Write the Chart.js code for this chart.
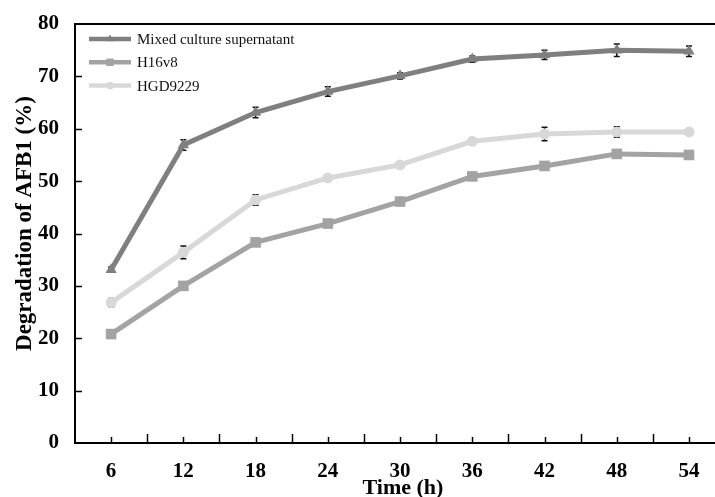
<!DOCTYPE html>
<html><head><meta charset="utf-8">
<script src="https://cdn.jsdelivr.net/npm/chart.js@4/dist/chart.umd.min.js"></script>
<style>html,body{margin:0;padding:0;background:#fff;overflow:hidden}#wrap{width:715px;height:497px;position:relative}</style>
</head><body><div id="wrap"><canvas id="c" width="715" height="497"></canvas></div>
<script>
// ---- data ----
const timeLabels = [6, 12, 18, 24, 30, 36, 42, 48, 54];
const mixedValues = [33.1, 56.9, 63.1, 67.1, 70.1, 73.3, 74.1, 75.0, 74.8];
const h16v8Values = [20.8, 30.0, 38.3, 41.9, 46.1, 50.9, 52.9, 55.2, 55.0];
const hgd9229Values = [26.8, 36.4, 46.4, 50.6, 53.1, 57.6, 59.0, 59.4, 59.4];
const mixedErr = [0.5, 1.0, 1.0, 0.9, 0.6, 0.6, 0.9, 1.2, 1.0];
const h16v8Err = [0.5, 0.5, 0.5, 0.5, 0.5, 0.5, 0.5, 0.5, 0.5];
const hgd9229Err = [0.8, 1.2, 1.0, 0.6, 0.6, 0.6, 1.3, 1.0, 0.6];
const seriesNames = ['Mixed culture supernatant', 'H16v8', 'HGD9229'];
const yTickValues = [0, 10, 20, 30, 40, 50, 60, 70, 80];
const xTitle = 'Time (h)';
const yTitle = 'Degradation of AFB1 (%)';

const colors = ['#7f7f7f', '#a3a3a3', '#d8d8d8'];
const styles = ['triangle', 'rect', 'circle'];
const radii = [6.5, 7.5, 5.5];
const allValues = [mixedValues, h16v8Values, hgd9229Values];
const allErr = [mixedErr, h16v8Err, hgd9229Err];

const serif = "'Liberation Serif','Times New Roman',serif";

const datasets = seriesNames.map((name, k) => ({
  label: name,
  data: timeLabels.map((t, i) => ({x: t, y: allValues[k][i]})),
  borderColor: colors[k],
  backgroundColor: colors[k],
  pointBackgroundColor: colors[k],
  pointBorderColor: colors[k],
  pointBorderWidth: 0,
  pointStyle: styles[k],
  pointRadius: radii[k],
  borderWidth: 5,
  tension: 0,
  fill: false,
  errors: allErr[k]
}));

const decor = {
  id: 'decor',
  beforeDatasetsDraw(chart) {
    const ctx = chart.ctx, ys = chart.scales.y;
    ctx.save();
    ctx.strokeStyle = '#111';
    ctx.lineWidth = 1.5;
    chart.data.datasets.forEach((ds, k) => {
      const meta = chart.getDatasetMeta(k);
      meta.data.forEach((pt, i) => {
        const v = ds.data[i].y, e = ds.errors[i];
        const y1 = ys.getPixelForValue(v + e), y2 = ys.getPixelForValue(v - e);
        ctx.beginPath();
        ctx.moveTo(pt.x, y1); ctx.lineTo(pt.x, y2);
        ctx.moveTo(pt.x - 3, y1); ctx.lineTo(pt.x + 3, y1);
        ctx.moveTo(pt.x - 3, y2); ctx.lineTo(pt.x + 3, y2);
        ctx.stroke();
      });
    });
    ctx.restore();
  },
  afterDraw(chart) {
    const ctx = chart.ctx, a = chart.chartArea;
    const xs = chart.scales.x, ys = chart.scales.y;
    ctx.save();
    ctx.strokeStyle = '#000';
    ctx.lineWidth = 2;
    // top frame line
    ctx.beginPath();
    ctx.moveTo(a.left - 1, a.top);
    ctx.lineTo(a.right, a.top);
    ctx.stroke();
    ctx.lineWidth = 1.5;
    // x ticks (inside): short at labelled values, long at midpoints
    timeLabels.forEach((t, i) => {
      const px = Math.round(xs.getPixelForValue(t)) + 0.5;
      ctx.beginPath(); ctx.moveTo(px, a.bottom); ctx.lineTo(px, a.bottom - 6); ctx.stroke();
      if (i < timeLabels.length - 1) {
        const mx = Math.round(xs.getPixelForValue((t + timeLabels[i + 1]) / 2)) + 0.5;
        ctx.beginPath(); ctx.moveTo(mx, a.bottom); ctx.lineTo(mx, a.bottom - 9); ctx.stroke();
      }
    });
    // y ticks (inside)
    yTickValues.forEach(v => {
      if (v === yTickValues[0] || v === yTickValues[yTickValues.length - 1]) return;
      const py = Math.round(ys.getPixelForValue(v)) + 0.5;
      ctx.beginPath(); ctx.moveTo(a.left, py); ctx.lineTo(a.left + 7, py); ctx.stroke();
    });
    // axis titles
    ctx.fillStyle = '#000';
    ctx.textAlign = 'center';
    ctx.textBaseline = 'middle';
    ctx.font = 'bold 22px ' + serif;
    ctx.fillText(xTitle, (a.left + a.right) / 2 + 8, a.bottom + 45);
    ctx.save();
    ctx.translate(25, (a.top + a.bottom) / 2 - 10);
    ctx.rotate(-Math.PI / 2);
    ctx.font = 'bold 23px ' + serif;
    ctx.fillText(yTitle, 0, 0);
    ctx.restore();
    // legend
    const lx0 = a.left + 14, lx1 = a.left + 56;
    ctx.font = '15px ' + serif;
    ctx.textBaseline = 'middle';
    ctx.textAlign = 'left';
    chart.data.datasets.forEach((ds, k) => {
      const ly = a.top + 15 + k * 23.3;
      ctx.strokeStyle = colors[k];
      ctx.lineWidth = 4.5;
      ctx.beginPath(); ctx.moveTo(lx0, ly); ctx.lineTo(lx1, ly); ctx.stroke();
      ctx.fillStyle = colors[k];
      Chart.helpers.drawPoint(ctx, {pointStyle: styles[k], radius: radii[k] * 0.7, borderWidth: 0}, (lx0 + lx1) / 2, ly);
      ctx.fillStyle = '#111';
      ctx.fillText(ds.label, lx1 + 6, ly + 1);
    });
    ctx.restore();
  }
};

new Chart(document.getElementById('c'), {
  type: 'line',
  data: {datasets},
  plugins: [decor],
  options: {
    responsive: false,
    animation: false,
    devicePixelRatio: 1,
    layout: {autoPadding: false, padding: {top: 24, right: 0, left: 0, bottom: 0}},
    plugins: {legend: {display: false}, tooltip: {enabled: false}},
    scales: {
      x: {
        type: 'linear',
        min: 3,
        max: 56.16,
        afterBuildTicks: s => { s.ticks = timeLabels.map(v => ({value: v})); },
        afterFit: s => { s.height = 54; s.paddingLeft = 0; s.paddingRight = 0; },
        ticks: {font: {family: serif, size: 21, weight: 'bold'}, color: '#000', padding: 16, maxRotation: 0, autoSkip: false},
        grid: {drawOnChartArea: false, drawTicks: false},
        border: {display: true, color: '#000', width: 2},
        title: {display: false, text: xTitle}
      },
      y: {
        min: 0,
        max: 80,
        afterBuildTicks: s => { s.ticks = yTickValues.map(v => ({value: v})); },
        afterFit: s => { s.width = 75; s.paddingTop = 0; s.paddingBottom = 0; },
        ticks: {font: {family: serif, size: 21, weight: 'bold'}, color: '#000', padding: 16},
        grid: {drawOnChartArea: false, drawTicks: false},
        border: {display: true, color: '#000', width: 2},
        title: {display: false, text: yTitle}
      }
    }
  }
});
</script>
</body></html>
